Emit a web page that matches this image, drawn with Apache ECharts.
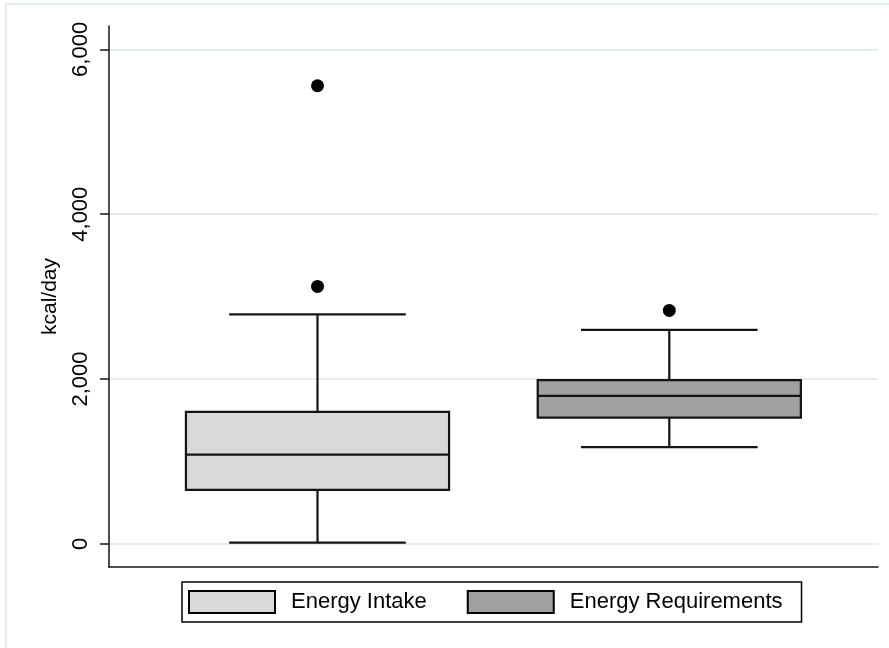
<!DOCTYPE html>
<html>
<head>
<meta charset="utf-8">
<script src="https://cdn.jsdelivr.net/npm/echarts@6/dist/echarts.min.js"></script>
<style>
  html, body { margin: 0; padding: 0; background: #fff; }
  #chart { width: 889px; height: 648px; }
</style>
</head>
<body>
<div id="chart"></div>
<script>
// Daily energy: intake vs. requirements (kcal/day)
const categories = ['Energy Intake', 'Energy Requirements'];
const whiskerLow  = [15, 1172];
const quartile1   = [653, 1532];
const medians     = [1083, 1795];
const quartile3   = [1600, 1985];
const whiskerHigh = [2783, 2596];
const outlierGroup  = [0, 0, 1];
const outlierValues = [3123, 5559, 2832];
const yTicks = [0, 2000, 4000, 6000];
const boxColors = ['#d9d9d9', '#a1a1a1'];

const FONT = '"Liberation Sans", Arial, Helvetica, sans-serif';
const LINE = '#141414';
const BOX_WIDTH = 0.748;   // in category units
const CAP_WIDTH = 0.502;

function renderBox(params, api) {
  const x = api.value(0);
  const lo = api.coord([x, api.value(1)]);
  const q1 = api.coord([x, api.value(2)]);
  const md = api.coord([x, api.value(3)]);
  const q3 = api.coord([x, api.value(4)]);
  const hi = api.coord([x, api.value(5)]);
  const bw = api.size([BOX_WIDTH, 0])[0];
  const cw = api.size([CAP_WIDTH, 0])[0];
  const cx = lo[0];
  const stroke = { stroke: LINE, lineWidth: 2.2, fill: null };
  const fill = api.visual('color');
  return {
    type: 'group',
    children: [
      { type: 'line', shape: { x1: cx, y1: hi[1], x2: cx, y2: q3[1] }, style: stroke },
      { type: 'line', shape: { x1: cx, y1: q1[1], x2: cx, y2: lo[1] }, style: stroke },
      { type: 'line', shape: { x1: cx - cw / 2, y1: hi[1], x2: cx + cw / 2, y2: hi[1] }, style: stroke },
      { type: 'line', shape: { x1: cx - cw / 2, y1: lo[1], x2: cx + cw / 2, y2: lo[1] }, style: stroke },
      { type: 'rect', shape: { x: cx - bw / 2, y: q3[1], width: bw, height: q1[1] - q3[1] },
        style: { fill: fill, stroke: LINE, lineWidth: 2.2 } },
      { type: 'line', shape: { x1: cx - bw / 2, y1: md[1], x2: cx + bw / 2, y2: md[1] }, style: stroke }
    ]
  };
}

const boxSeries = categories.map(function (name, i) {
  return {
    name: name,
    type: 'custom',
    renderItem: renderBox,
    itemStyle: { color: boxColors[i] },
    encode: { x: 0, y: [1, 2, 3, 4, 5] },
    data: [[i, whiskerLow[i], quartile1[i], medians[i], quartile3[i], whiskerHigh[i]]],
    z: 3
  };
});

const outlierSeries = {
  name: 'outliers',
  type: 'scatter',
  symbol: 'circle',
  symbolSize: 13,
  itemStyle: { color: '#000', opacity: 1 },
  data: outlierGroup.map(function (g, k) { return [g, outlierValues[k]]; }),
  z: 4
};

const chart = echarts.init(document.getElementById('chart'), null, { renderer: 'canvas' });
chart.setOption({
  animation: false,
  backgroundColor: '#fff',
  textStyle: { fontFamily: FONT },
  graphic: [{
    type: 'rect',
    shape: { x: 6, y: 4, width: 900, height: 660 },
    style: { fill: null, stroke: '#e3ecee', lineWidth: 2 },
    silent: true
  }],
  grid: { left: 109, top: 26, width: 769, height: 541, containLabel: false },
  xAxis: {
    type: 'value',
    min: -0.5927,
    max: 1.5933,
    axisLine: { show: true, onZero: false, lineStyle: { color: LINE, width: 1.5 } },
    axisTick: { show: false },
    axisLabel: { show: false },
    splitLine: { show: false }
  },
  yAxis: {
    type: 'value',
    min: -282,
    max: 6284,
    name: 'kcal/day',
    nameLocation: 'middle',
    nameRotate: 90,
    nameGap: 48,
    nameTextStyle: { fontSize: 21, color: '#000', fontFamily: FONT },
    axisLine: { show: true, onZero: false, lineStyle: { color: LINE, width: 1.5 } },
    axisTick: { show: true, length: 9, customValues: yTicks, lineStyle: { color: LINE, width: 1.5 } },
    axisLabel: {
      customValues: yTicks,
      rotate: 90,
      margin: 17,
      fontSize: 22,
      color: '#000',
      fontFamily: FONT,
      formatter: function (v) { return Number(v).toLocaleString('en-US'); }
    },
    splitLine: { show: true, lineStyle: { color: '#e4eef0', width: 2 } }
  },
  legend: {
    left: 182,
    top: 582,
    data: categories.map(function (name, i) {
      return { name: name, icon: 'rect', itemStyle: { color: boxColors[i], borderColor: '#000', borderWidth: 2 } };
    }),
    itemWidth: 86,
    itemHeight: 22,
    itemGap: 40,
    padding: [8, 19, 8, 6],
    borderColor: '#000',
    borderWidth: 1.5,
    backgroundColor: '#fff',
    textStyle: { fontSize: 22, color: '#000', fontFamily: FONT, padding: [0, 0, 0, 11] }
  },
  series: boxSeries.concat([outlierSeries])
});
</script>
</body>
</html>
